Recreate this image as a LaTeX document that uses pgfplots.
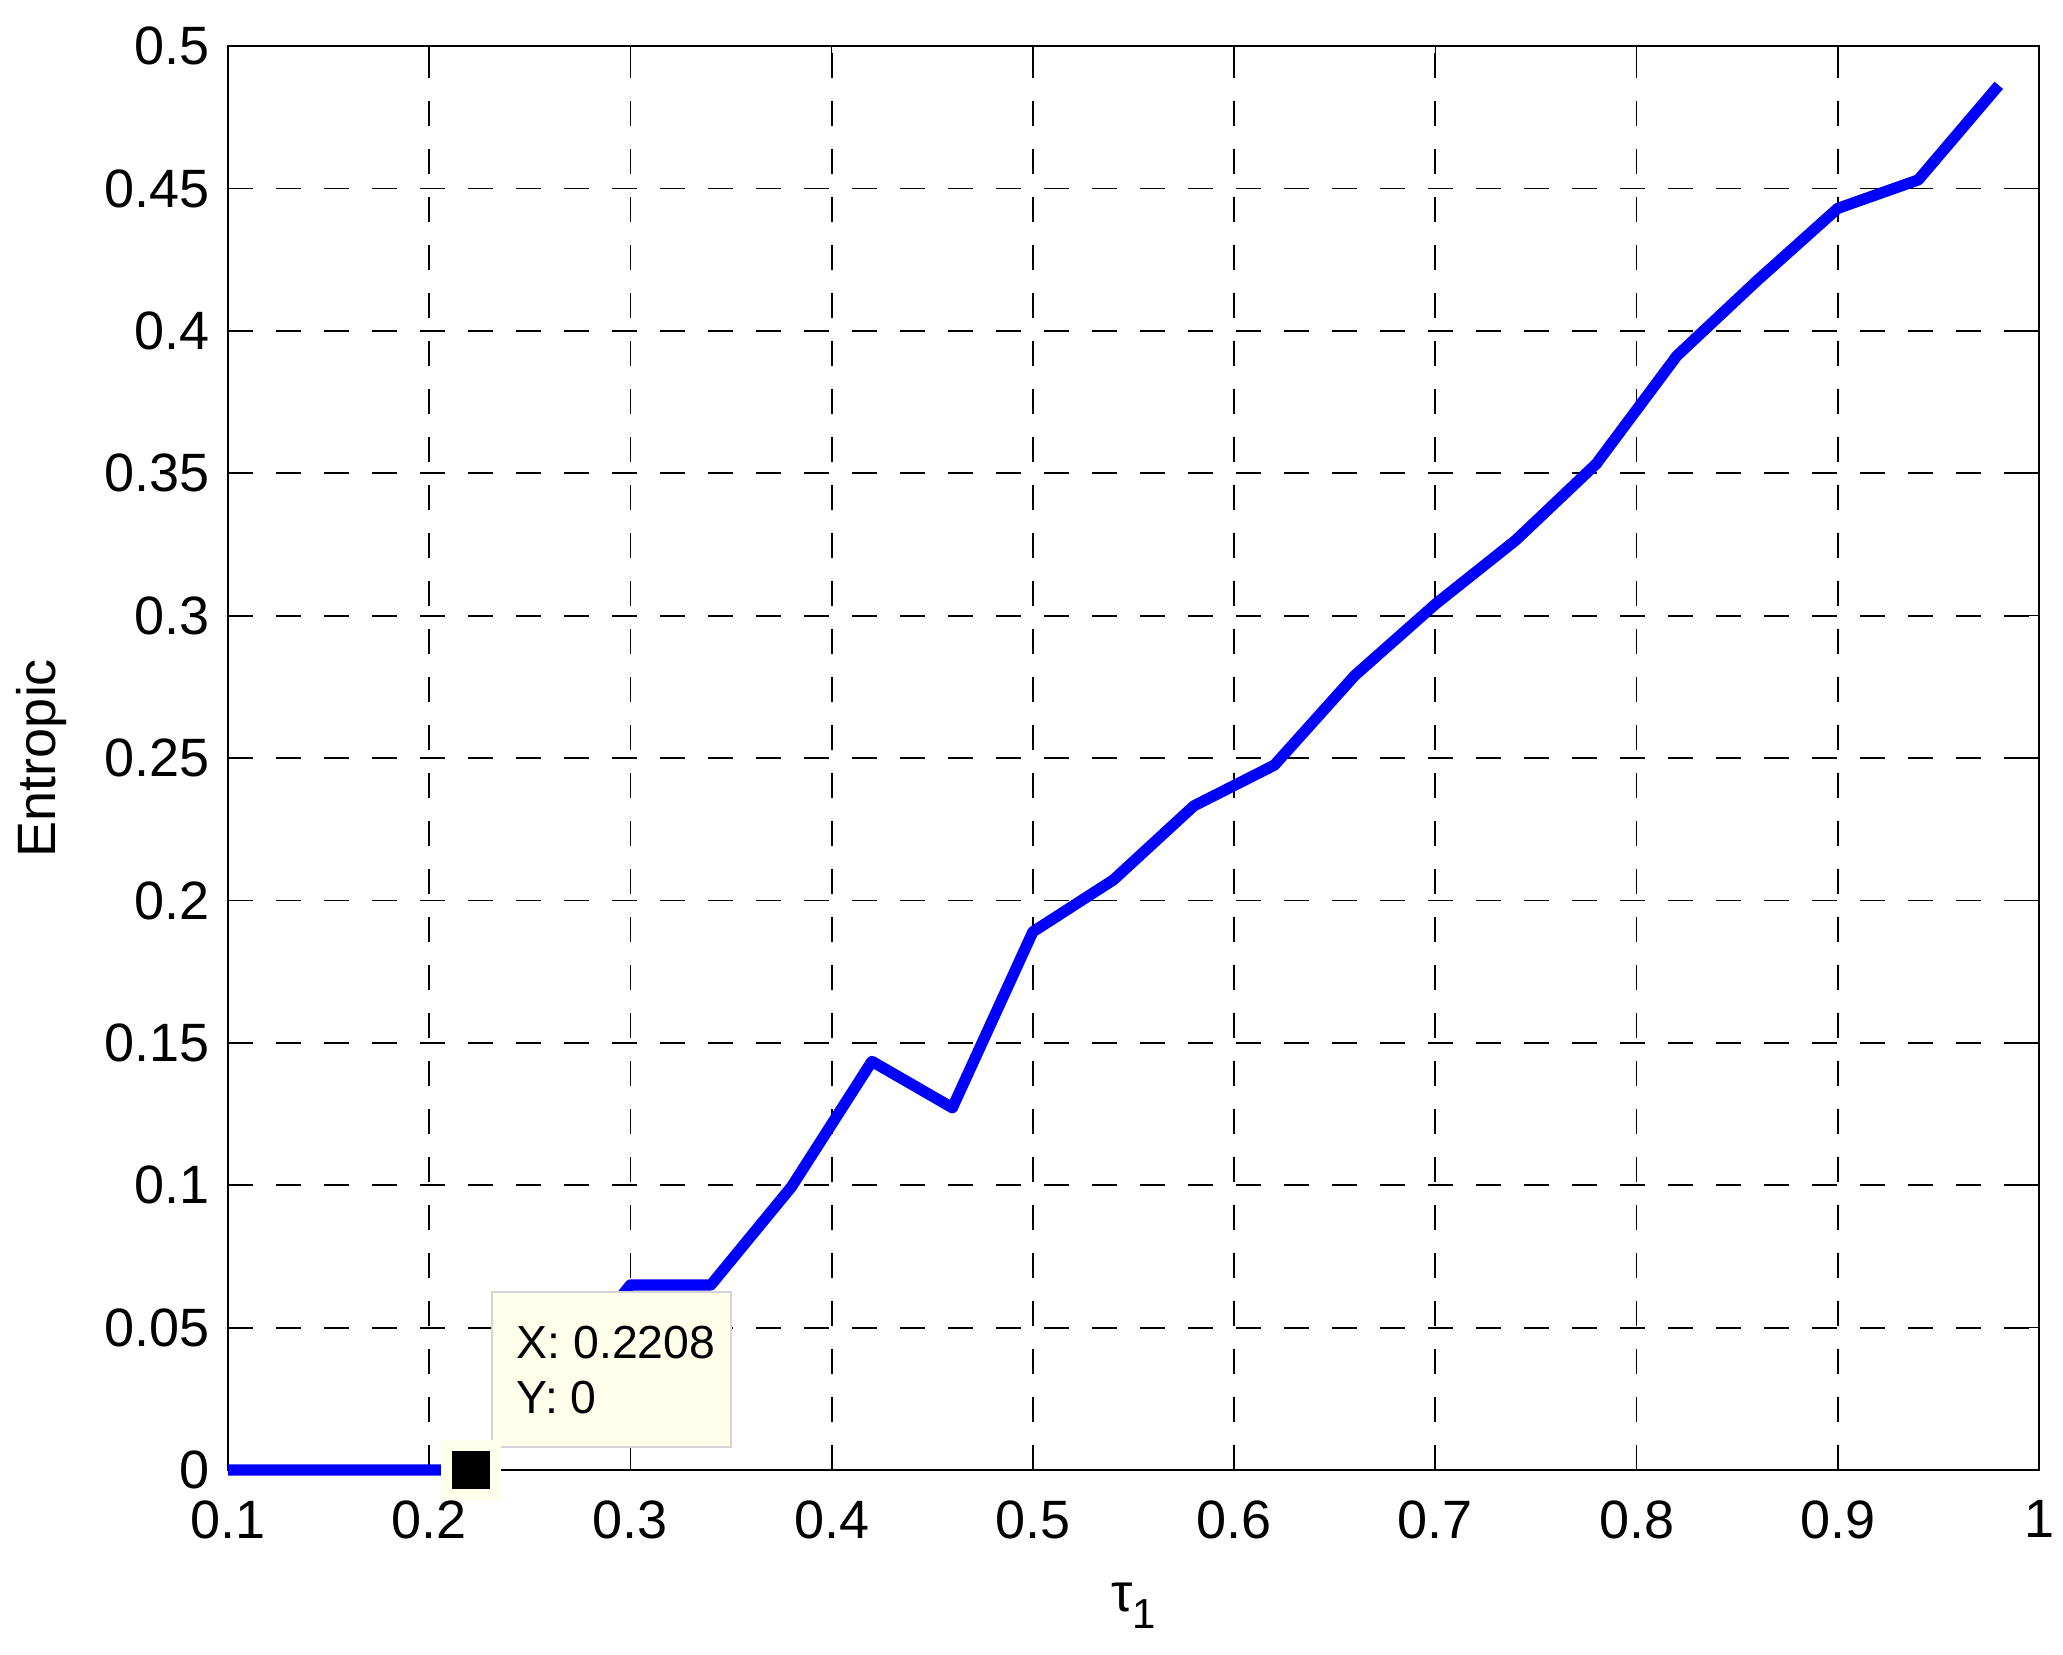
\documentclass[border=0pt]{standalone}
\usepackage{pgfplots}
\pgfplotsset{compat=1.18}
\usepackage{fontspec}
\setmainfont{Liberation Sans}
\definecolor{tipfill}{RGB}{255,255,235}
\definecolor{tipedge}{RGB}{212,212,212}
\definecolor{mblue}{RGB}{0,0,255}
\pgfplotstableread{
x y
0.10 0
0.14 0
0.18 0
0.2208 0
0.26 0.03
0.30 0.065
0.34 0.065
0.38 0.0994
0.42 0.1435
0.46 0.1272
0.50 0.1890
0.54 0.2072
0.58 0.2332
0.62 0.2475
0.66 0.2790
0.70 0.3040
0.74 0.3265
0.78 0.3533
0.82 0.3912
0.86 0.4177
0.90 0.4430
0.94 0.4530
0.98 0.4862
}\datatable
\begin{document}
\fontsize{13.5}{14.5}\selectfont
\begin{tikzpicture}
\useasboundingbox (-57pt,-46pt) rectangle (458.75pt,367.5pt);
\begin{axis}[
  at={(0,0)}, anchor=south west,
  scale only axis, width=452.75pt, height=356pt,
  xmin=0.1, xmax=1, ymin=0, ymax=0.5,
  xtick={0.1,0.2,0.3,0.4,0.5,0.6,0.7,0.8,0.9,1},
  xticklabels={0.1,0.2,0.3,0.4,0.5,0.6,0.7,0.8,0.9,1},
  ytick={0,0.05,0.1,0.15,0.2,0.25,0.3,0.35,0.4,0.45,0.5},
  yticklabels={0,0.05,0.1,0.15,0.2,0.25,0.3,0.35,0.4,0.45,0.5},
  tick align=inside, major tick length=4.5pt,
  tick style={black, line width=0.4pt},
  axis line style={black, line width=0.5pt},
  grid=major,
  major grid style={black, line width=0.45pt, dash pattern=on 6.25pt off 5.75pt},
  ticklabel style={font=\fontsize{13.5}{14.5}\selectfont},
  xticklabel style={yshift=-3pt},
  ylabel={Entropic},
  ylabel style={at={(axis description cs:-0.1027,0.5)}, anchor=center, font=\fontsize{13.5}{14.5}\selectfont},
  xlabel={τ\raisebox{-0.6ex}{\fontsize{10.5}{12}\selectfont 1}},
  xlabel style={at={(axis description cs:0.5,-0.0955)}, anchor=center, font=\fontsize{13.5}{14.5}\selectfont},
  clip=false,
]
\addplot[mblue, line width=2.8pt, line join=round] table[x=x,y=y] {\datatable};
\draw[fill=tipfill, draw=tipedge, line width=0.5pt] (axis cs:0.2310,0.00808) rectangle (axis cs:0.35,0.0625);
\node[anchor=base west, inner sep=0pt, font=\fontsize{11.6}{13}\selectfont] at (axis cs:0.2431,0.0393) {X: 0.2208};
\node[anchor=base west, inner sep=0pt, font=\fontsize{11.6}{13}\selectfont] at (axis cs:0.2431,0.0197) {Y: 0};
\addplot[only marks, mark=square*, mark size=6.125pt, mark options={fill=black, draw=tipfill, line width=2.75pt}] coordinates {(0.2208,0)};
\end{axis}
\end{tikzpicture}
\end{document}
